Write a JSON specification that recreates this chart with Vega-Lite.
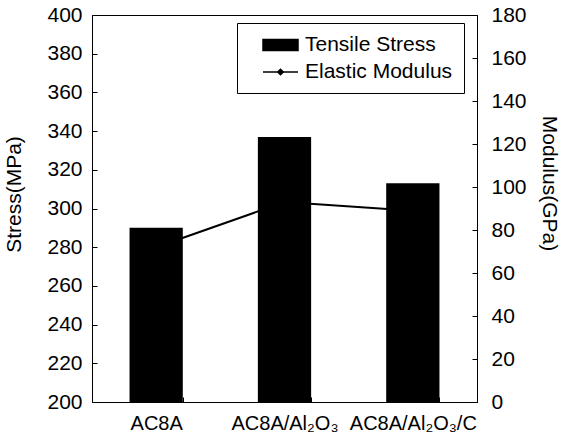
{
  "$schema": "https://vega.github.io/schema/vega-lite/v6.json",
  "width": 385,
  "height": 387,
  "autosize": "none",
  "padding": {"left": 92, "top": 15, "right": 86, "bottom": 44},
  "background": "white",
  "config": {
    "font": "Liberation Sans",
    "view": {"stroke": "black", "strokeWidth": 1},
    "axis": {
      "grid": false,
      "domainColor": "black",
      "tickColor": "black",
      "labelColor": "black",
      "titleColor": "black",
      "labelFont": "Liberation Sans",
      "titleFont": "Liberation Sans",
      "labelFontSize": 21,
      "titleFontSize": 21,
      "titleFontWeight": "normal"
    }
  },
  "data": {
    "values": [
      {"alloy": "AC8A", "stress": 290, "modulus": 72},
      {"alloy": "AC8A/Al₂O₃", "stress": 337, "modulus": 93},
      {"alloy": "AC8A/Al₂O₃/C", "stress": 313, "modulus": 89}
    ]
  },
  "encoding": {
    "x": {
      "field": "alloy",
      "type": "nominal",
      "sort": null,
      "scale": {"paddingInner": 0.585, "paddingOuter": 0.2925},
      "axis": {
        "title": null,
        "orient": "bottom",
        "tickBand": "extent",
        "tickSize": -5,
        "labelAngle": 0,
        "labelFontSize": 20,
        "labelPadding": 16
      }
    }
  },
  "layer": [
    {
      "mark": {"type": "line", "strokeWidth": 2},
      "encoding": {
        "y": {
          "field": "modulus",
          "type": "quantitative",
          "scale": {"domain": [0, 180], "nice": false, "zero": false},
          "axis": {
            "title": "Modulus(GPa)",
            "orient": "right",
            "values": [0, 20, 40, 60, 80, 100, 120, 140, 160, 180],
            "tickSize": -5,
            "labelPadding": 19,
            "titleX": 61,
            "titleY": 168
          }
        },
        "color": {"datum": "Elastic Modulus"}
      }
    },
    {
      "mark": {"type": "bar"},
      "encoding": {
        "y": {
          "field": "stress",
          "type": "quantitative",
          "scale": {"domain": [200, 400], "nice": false, "zero": false},
          "axis": {
            "title": "Stress(MPa)",
            "orient": "left",
            "values": [200, 220, 240, 260, 280, 300, 320, 340, 360, 380, 400],
            "tickSize": -5,
            "labelPadding": 15,
            "titleX": -68,
            "titleY": 179
          }
        },
        "y2": {"datum": 200},
        "color": {
          "datum": "Tensile Stress",
          "scale": {"domain": ["Tensile Stress", "Elastic Modulus"], "range": ["black", "black"]},
          "legend": {
            "title": null,
            "orient": "none",
            "legendX": 145,
            "legendY": 8,
            "strokeColor": "black",
            "padding": 11,
            "symbolSize": 400,
            "labelFontSize": 21,
            "labelFont": "Liberation Sans",
            "labelColor": "black",
            "labelOffset": 35,
            "rowPadding": 6,
            "encode": {
              "symbols": {
                "update": {
                  "shape": {"signal": "datum.label === 'Tensile Stress' ? 'M0.4,-0.55H3.9V0.55H0.4Z' : 'M0.4,0H3.9M1.87,0L2.15,-0.28L2.43,0L2.15,0.28Z'"},
                  "fill": {"value": "black"},
                  "stroke": {"value": "black"},
                  "strokeWidth": {"value": 1.5}
                }
              }
            }
          }
        }
      }
    }
  ],
  "resolve": {"scale": {"y": "independent"}}
}
